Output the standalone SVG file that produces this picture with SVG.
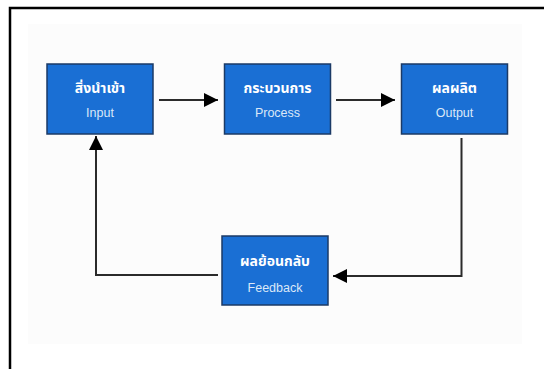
<svg xmlns="http://www.w3.org/2000/svg" width="544" height="369" viewBox="0 0 544 369">
<defs>
<style>
.box{fill:#1a6fd4;stroke:#1b3a66;stroke-width:1.5}
.th{font-family:"Noto Sans Thai","Noto Sans","DejaVu Sans",sans-serif;font-size:14px;fill:#ffffff;text-anchor:middle;font-weight:bold}
.en{font-family:"Liberation Sans",Arial,sans-serif;font-size:12.5px;fill:#dbe8f8;text-anchor:middle}
.ln{fill:none;stroke:#2b2b2b;stroke-width:2}
</style>
<marker id="ah" markerWidth="14" markerHeight="14" refX="14" refY="7" orient="auto" markerUnits="userSpaceOnUse">
<path d="M0,0 L14,7 L0,14 Z" fill="#000"/>
</marker>
</defs>
<rect x="0" y="0" width="544" height="369" fill="#ffffff"/>
<rect x="28" y="24" width="494" height="320" fill="#fcfcfc"/>
<path d="M10,369 V8 H544" fill="none" stroke="#000" stroke-width="2.5"/>
<g id="connectors">
<line class="ln" x1="159" y1="100" x2="218" y2="100" marker-end="url(#ah)"/>
<line class="ln" x1="336" y1="100" x2="395" y2="100" marker-end="url(#ah)"/>
<polyline class="ln" points="461.5,138 461.5,276 333,276" marker-end="url(#ah)"/>
<polyline class="ln" points="218,275 96,275 96,136" marker-end="url(#ah)"/>
</g>
<g id="input">
<rect class="box" x="47" y="64" width="106" height="70"/>
<text class="th" x="100" y="93">สิ่งนำเข้า</text>
<text class="en" x="100" y="117">Input</text>
</g>
<g id="process">
<rect class="box" x="224.5" y="64" width="106" height="70"/>
<text class="th" x="277.5" y="93">กระบวนการ</text>
<text class="en" x="277.5" y="117">Process</text>
</g>
<g id="output">
<rect class="box" x="401.5" y="64" width="106" height="70"/>
<text class="th" x="454.5" y="93">ผลผลิต</text>
<text class="en" x="454.5" y="117">Output</text>
</g>
<g id="feedback">
<rect class="box" x="222" y="236" width="106" height="69"/>
<text class="th" x="275" y="266">ผลย้อนกลับ</text>
<text class="en" x="275" y="292">Feedback</text>
</g>
</svg>
